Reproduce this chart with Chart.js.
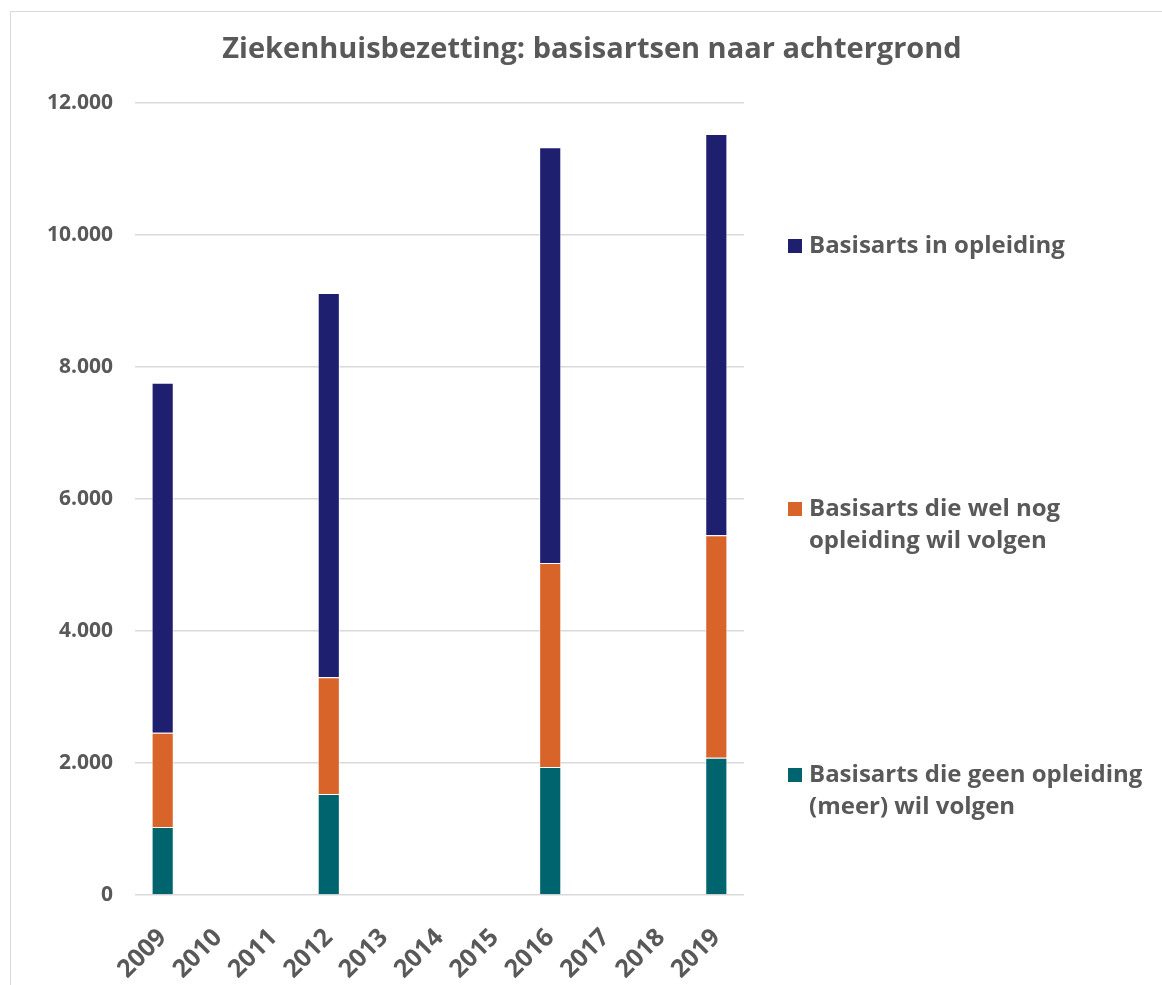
<!DOCTYPE html>
<html lang="nl">
<head>
<meta charset="utf-8">
<title>Ziekenhuisbezetting: basisartsen naar achtergrond</title>
<script src="https://cdn.jsdelivr.net/npm/chart.js@4/dist/chart.umd.min.js"></script>
<style>
  html, body { margin: 0; padding: 0; background: #fff; }
  #wrap { position: relative; width: 1162px; height: 985px; overflow: hidden; }
  #frame { position: absolute; left: 10px; top: 11px; width: 1200px; height: 1000px; border: 1px solid #d9d9d9; box-sizing: border-box; }
  canvas { position: absolute; left: 0; top: 0; }
</style>
</head>
<body>
<div id="wrap">
  <div id="frame"></div>
  <canvas id="chart" width="1162" height="985"></canvas>
</div>
<script>
(function () {
  "use strict";

  /* ---- data ------------------------------------------------------------- */
  var years = ["2009", "2010", "2011", "2012", "2013", "2014", "2015", "2016", "2017", "2018", "2019"];
  var geenOpleiding = [1030, null, null, 1530, null, null, null, 1940, null, null, 2080];
  var welOpleiding  = [1430, null, null, 1770, null, null, null, 3090, null, null, 3370];
  var inOpleiding   = [5300, null, null, 5820, null, null, null, 6300, null, null, 6080];
  var seriesNames = [
    "Basisarts die geen opleiding (meer) wil volgen",
    "Basisarts die wel nog opleiding wil volgen",
    "Basisarts in opleiding"
  ];
  var yTicks = [0, 2000, 4000, 6000, 8000, 10000, 12000];
  var title = "Ziekenhuisbezetting: basisartsen naar achtergrond";

  var GREY = "#595959";
  var FONT = "'Open Sans', 'Noto Sans', sans-serif";
  var colors = ["#00646e", "#d8642a", "#1e1f6e"];

  function fmt(v) { return String(v).replace(/\B(?=(\d{3})+(?!\d))/g, "."); }

  /* title + right-hand legend, drawn Excel style */
  var sideLegend = {
    id: "sideLegend",
    afterDraw: function (chart) {
      var ctx = chart.ctx;
      ctx.save();
      ctx.fillStyle = GREY;
      ctx.font = "bold 29px " + FONT;
      ctx.textAlign = "center";
      ctx.textBaseline = "middle";
      ctx.fillText(title, 592, 50);

      var firstLineY = [246, 509, 775];   // top item first
      var x0 = 788, box = 14, tx = 809, maxW = 345, lh = 32;
      ctx.font = "bold 24px " + FONT;
      ctx.textAlign = "left";
      var ds = chart.data.datasets.slice().reverse();
      ds.forEach(function (d, i) {
        var words = d.label.split(" "), lines = [], cur = "";
        words.forEach(function (w) {
          var t = cur ? cur + " " + w : w;
          if (ctx.measureText(t).width > maxW && cur) { lines.push(cur); cur = w; } else { cur = t; }
        });
        lines.push(cur);
        var y = firstLineY[i];
        ctx.fillStyle = d.backgroundColor;
        ctx.fillRect(x0, y - box / 2, box, box);
        ctx.fillStyle = GREY;
        lines.forEach(function (ln, k) { ctx.fillText(ln, tx, y + k * lh); });
      });
      ctx.restore();
    }
  };

  var datasets = [geenOpleiding, welOpleiding, inOpleiding].map(function (vals, i) {
    return {
      label: seriesNames[i],
      data: vals,
      backgroundColor: colors[i],
      borderColor: "rgba(255,255,255,0.7)",
      borderWidth: 1,
      barPercentage: 0.4,
      categoryPercentage: 1
    };
  });

  new Chart(document.getElementById("chart").getContext("2d"), {
    type: "bar",
    data: { labels: years, datasets: datasets },
    plugins: [sideLegend],
    options: {
      responsive: false,
      animation: false,
      layout: { padding: { top: 103, right: 418, bottom: 0, left: 0 } },
      plugins: { legend: { display: false }, title: { display: false }, tooltip: { enabled: false } },
      scales: {
        x: {
          stacked: true,
          grid: { display: false },
          border: { display: false },
          ticks: { color: GREY, font: { family: FONT, size: 25, weight: "bold" }, minRotation: 45, maxRotation: 45, autoSkip: false, padding: 20 },
          afterFit: function (s) { s.height = 90; }
        },
        y: {
          stacked: true,
          min: 0,
          max: 12000,
          afterBuildTicks: function (s) { s.ticks = yTicks.map(function (v) { return { value: v }; }); },
          grid: { color: "#d9d9d9", lineWidth: 1.5, drawTicks: false },
          border: { display: false },
          ticks: { color: GREY, font: { family: FONT, size: 21, weight: "bold" }, padding: 22, callback: function (v) { return fmt(v); } },
          afterFit: function (s) { s.width = 135; }
        }
      }
    }
  });
})();
</script>
</body>
</html>
